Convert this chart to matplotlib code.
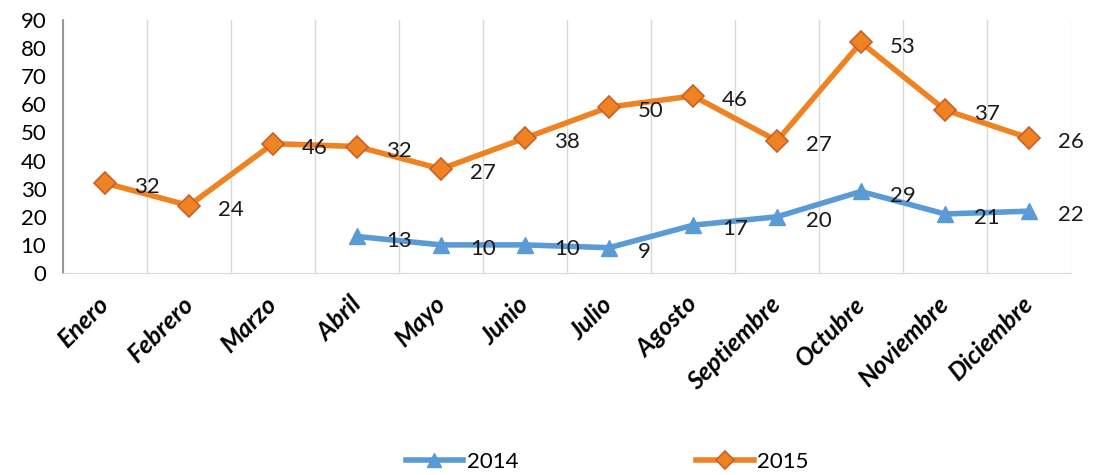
import numpy as np
import matplotlib
matplotlib.use('Agg')
import matplotlib.pyplot as plt
import matplotlib.transforms as mtransforms

plt.rcParams['font.family'] = ['Lato', 'DejaVu Sans']

# --- data ---
months = ['Enero', 'Febrero', 'Marzo', 'Abril', 'Mayo', 'Junio', 'Julio',
          'Agosto', 'Septiembre', 'Octubre', 'Noviembre', 'Diciembre']
v2014 = [np.nan, np.nan, np.nan, 13, 10, 10, 9, 17, 20, 29, 21, 22]
v2015 = [32, 24, 46, 32, 27, 38, 50, 46, 27, 53, 37, 26]

blue = '#5B9BD5'
orange = '#EF8321'

# stacked line chart: 2015 series drawn on top of 2014
base = np.nan_to_num(np.array(v2014, dtype=float))
top2015 = base + np.array(v2015, dtype=float)
x = np.arange(len(months))

fig = plt.figure(figsize=(10.97, 4.75), dpi=100)
ax = fig.add_axes([63 / 1097, 1 - 273 / 475, (1071 - 63) / 1097, 253 / 475])

ax.plot(x, v2014, color=blue, lw=4, marker='^', ms=12,
        mfc=blue, mec=blue, label='2014', zorder=3)
ax.plot(x, top2015, color=orange, lw=4, marker='D', ms=11,
        mfc=orange, mec='#C8602A', mew=1.2, label='2015', zorder=3)

# data labels to the right of each point
for xi, yi, v in zip(x, v2014, v2014):
    if not np.isnan(v):
        ax.annotate(f'{int(v)}', (xi, yi), xytext=(21, -3), textcoords='offset points',
                    ha='left', va='center', fontsize=16, color='#1a1a1a')
for xi, yi, v in zip(x, top2015, v2015):
    ax.annotate(f'{int(v)}', (xi, yi), xytext=(21, -3), textcoords='offset points',
                ha='left', va='center', fontsize=16, color='#1a1a1a')

ax.set_xlim(-0.5, len(months) - 0.5)
ax.set_ylim(0, 90)
ax.set_yticks(range(0, 91, 10))
ax.tick_params(axis='y', length=0, labelsize=16, pad=12)

# vertical gridlines at category boundaries
ax.set_xticks(np.arange(-0.5, len(months), 1), minor=True)
ax.grid(True, which='minor', axis='x', color='#D9D9D9', lw=1)
ax.set_xticks(x)
ax.set_xticklabels(months, rotation=45, ha='right', rotation_mode='anchor',
                   fontsize=18, fontweight='bold', fontstyle='italic')
ax.tick_params(axis='x', which='both', length=0, pad=14)
shift = mtransforms.ScaledTranslation(-8 / 100, 0, fig.dpi_scale_trans)
for lbl in ax.get_xticklabels():
    lbl.set_transform(lbl.get_transform() + shift)

for s in ['top', 'right']:
    ax.spines[s].set_visible(False)
ax.spines['left'].set_color('#888888')
ax.spines['left'].set_linewidth(1.2)
ax.spines['bottom'].set_color('#D9D9D9')

fig.legend(loc='center', bbox_to_anchor=(607 / 1097, 1 - 462 / 475), ncol=2,
           frameon=False, fontsize=16, handlelength=2.6, columnspacing=8,
           handletextpad=0.15, markerscale=0.8)

fig.savefig('out.png', dpi=100)
